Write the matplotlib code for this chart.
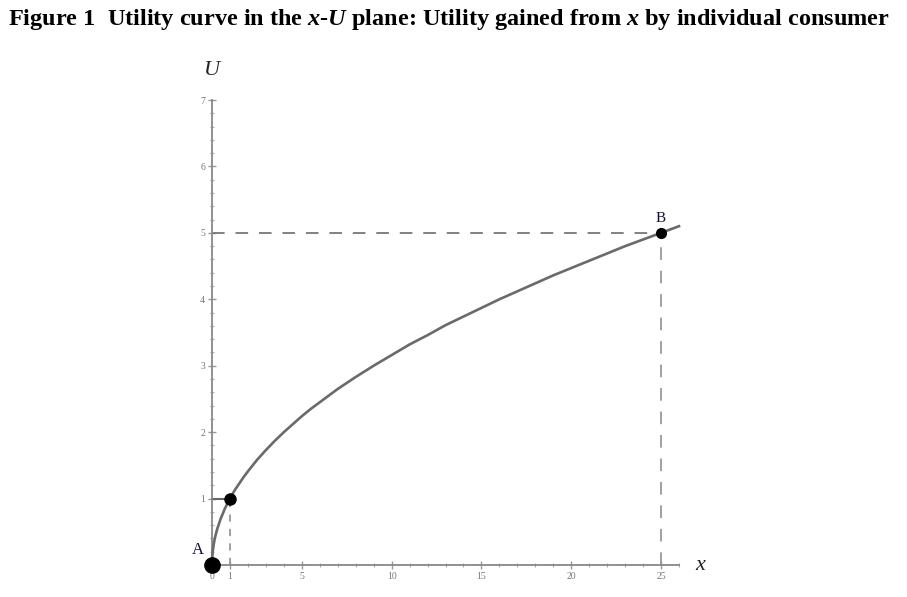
import matplotlib
matplotlib.use("Agg")
import matplotlib.pyplot as plt
from matplotlib.ticker import MultipleLocator, FixedLocator

plt.rcParams['font.family'] = ['Liberation Serif', 'DejaVu Serif']
plt.rcParams['mathtext.fontset'] = 'custom'
plt.rcParams['mathtext.it'] = 'Liberation Serif:italic:bold'
plt.rcParams['mathtext.rm'] = 'Liberation Serif:bold'

# Curve values
curve_x = [0, 0.02, 0.05, 0.1, 0.15, 0.2, 0.3, 0.4, 0.5, 0.6, 0.7, 0.85, 1,
           1.25, 1.5, 1.75, 2, 2.5, 3, 3.5, 4, 4.5, 5, 5.5, 6, 7, 8, 9, 10,
           11, 12, 13, 14, 15, 16, 17, 18, 19, 20, 21, 22, 23, 24, 25, 26]
curve_u = [0, 0.14, 0.22, 0.32, 0.39, 0.45, 0.55, 0.63, 0.71, 0.77, 0.84, 0.92, 1,
           1.12, 1.22, 1.32, 1.41, 1.58, 1.73, 1.87, 2, 2.12, 2.24, 2.35, 2.45,
           2.65, 2.83, 3, 3.16, 3.32, 3.46, 3.61, 3.74, 3.87, 4, 4.12, 4.24,
           4.36, 4.47, 4.58, 4.69, 4.8, 4.9, 5, 5.1]

point_names = ["A", "", "B"]
point_x = [0, 1, 25]
point_u = [0, 1, 5]

x_ticks = [0, 1, 5, 10, 15, 20, 25]
x_tick_labels = ["0", "1", "5", "10", "15", "20", "25"]
u_ticks = [1, 2, 3, 4, 5, 6, 7]
u_tick_labels = ["1", "2", "3", "4", "5", "6", "7"]

fig = plt.figure(figsize=(9.07, 5.97), dpi=100)
ax = fig.add_axes([212/907, 1-565/597, 467/907, 465/597])
ax.set_xlim(0, 26)
ax.set_ylim(0, 7)

for s in ['top', 'right']:
    ax.spines[s].set_visible(False)
for s in ['left', 'bottom']:
    ax.spines[s].set_color('#888888')
    ax.spines[s].set_linewidth(1.3)

ax.plot(curve_x, curve_u, color='#6a6a6a', lw=1.9, clip_on=False, zorder=3)

# guide lines
ax.plot([0, point_x[2]], [point_u[2], point_u[2]], color='#777777', lw=1.3,
        dashes=(7, 6), clip_on=False)
ax.plot([point_x[2], point_x[2]], [0, point_u[2]], color='#999999', lw=1.3,
        dashes=(7, 6), clip_on=False)
ax.plot([point_x[1], point_x[1]], [0, point_u[1]], color='#999999', lw=1.3,
        dashes=(4, 4), clip_on=False)
ax.plot([0, point_x[1]], [point_u[1], point_u[1]], color='#666666', lw=1.5,
        clip_on=False)

sizes = [11, 8, 7]
for px, pu, ms in zip(point_x, point_u, sizes):
    ax.plot([px], [pu], 'o', color='black', ms=ms, clip_on=False, zorder=5)

ax.text(point_x[0] - 0.45, point_u[0] + 0.1, point_names[0], ha='right', va='bottom',
        fontsize=12, color='#111133')
ax.text(point_x[2], point_u[2] + 0.12, point_names[2], ha='center', va='bottom',
        fontsize=11, color='#111133')

ax.xaxis.set_major_locator(FixedLocator(x_ticks))
ax.set_xticklabels(x_tick_labels)
ax.xaxis.set_minor_locator(MultipleLocator(1))
ax.yaxis.set_major_locator(FixedLocator(u_ticks))
ax.set_yticklabels(u_tick_labels)
ax.yaxis.set_minor_locator(MultipleLocator(0.2))
ax.tick_params(axis='both', which='major', direction='inout', length=6, width=1,
               color='#999999', labelsize=7, labelcolor='#777777', pad=2)
ax.tick_params(axis='both', which='minor', direction='inout', length=3, width=0.8,
               color='#aaaaaa')

ax.text(0, 7.3, 'U', ha='center', va='bottom', fontsize=16, style='italic',
        color='#222222', transform=ax.transData)
ax.text(26.9, 0, 'x', ha='left', va='center', fontsize=16, style='italic',
        color='#222222')

fig.text(0.009, 1 - 20/597,
         r'Figure 1  Utility curve in the $x$-$U$ plane: Utility gained from $x$ by individual consumer',
         ha='left', va='center', fontsize=17.5, fontweight='bold')

fig.savefig('out.png', dpi=100)
